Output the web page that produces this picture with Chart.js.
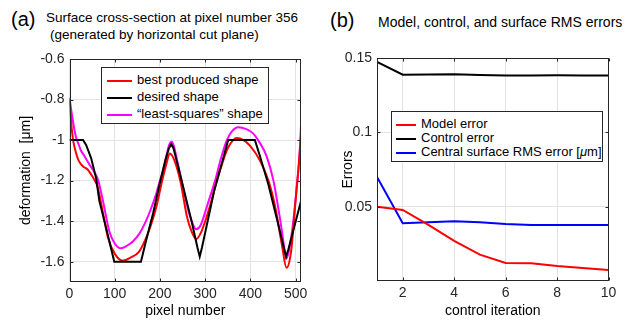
<!DOCTYPE html>
<html>
<head>
<meta charset="utf-8">
<script src="https://cdn.jsdelivr.net/npm/chart.js@4"></script>
<style>
  body { margin: 0; width: 641px; height: 321px; position: relative; overflow: hidden; background: #fff;
         font-family: "Liberation Sans", Arial, sans-serif; color: #000; }
  canvas { position: absolute; top: 0; }
  .txt { position: absolute; white-space: nowrap; line-height: 1; }
  .legend { position: absolute; border: 1px solid #262626; background: #fff; box-sizing: border-box; }
  .row { position: absolute; left: 0; white-space: nowrap; font-size: 13px; line-height: 14px; }
  .sw { position: absolute; height: 2px; }
  .lab { position: absolute; top: -7px; }
</style>
</head>
<body>
<div class="txt" style="left:11px;top:9px;font-size:20px;">(a)</div>
<div class="txt" style="left:46px;top:11px;font-size:13.5px;">Surface cross-section at pixel number 356</div>
<div class="txt" style="left:50px;top:28px;font-size:13.5px;">(generated by horizontal cut plane)</div>
<div class="txt" style="left:330px;top:10px;font-size:20px;">(b)</div>
<div class="txt" style="left:378px;top:15px;font-size:14px;">Model, control, and surface RMS errors</div>

<canvas id="chartA" width="320" height="321" style="left:0"></canvas>
<canvas id="chartB" width="321" height="321" style="left:320px"></canvas>

<div class="legend" style="left:101px;top:67px;width:168px;height:57px;">
  <div class="row" style="top:12px"><span class="sw" style="left:5px;width:25px;background:#ff0000"></span><span class="lab" style="left:35px">best produced shape</span></div>
  <div class="row" style="top:29px"><span class="sw" style="left:5px;width:25px;background:#000"></span><span class="lab" style="left:35px">desired shape</span></div>
  <div class="row" style="top:46px"><span class="sw" style="left:5px;width:25px;background:#ff00ff"></span><span class="lab" style="left:35px">“least-squares” shape</span></div>
</div>

<div class="legend" style="left:391px;top:111px;width:212px;height:51px;">
  <div class="row" style="top:12px"><span class="sw" style="left:4px;width:20px;background:#ff0000"></span><span class="lab" style="left:29px">Model error</span></div>
  <div class="row" style="top:26px"><span class="sw" style="left:4px;width:20px;background:#000"></span><span class="lab" style="left:29px">Control error</span></div>
  <div class="row" style="top:40px"><span class="sw" style="left:4px;width:20px;background:#0000ff"></span><span class="lab" style="left:29px">Central surface RMS error [<i>μ</i>m]</span></div>
</div>

<script>
// panel (a): surface cross-section
const bestX = [0, 4, 8, 14, 20, 30, 40, 48, 56, 62, 75, 85, 100, 118, 135, 154, 168, 180, 192, 205, 214, 222, 232, 246, 260, 270, 280, 292, 310, 326, 340, 350, 362, 370, 385, 400, 421, 440, 455, 470, 480, 490, 500, 506, 512];
const bestY = [-0.8, -0.92, -1.0, -1.06, -1.1, -1.13, -1.145, -1.17, -1.2, -1.23, -1.37, -1.48, -1.56, -1.595, -1.58, -1.55, -1.49, -1.42, -1.33, -1.2, -1.12, -1.066, -1.1, -1.21, -1.38, -1.45, -1.488, -1.45, -1.33, -1.2, -1.1, -1.04, -1.0, -0.99, -1.0, -1.03, -1.1, -1.2, -1.33, -1.52, -1.63, -1.55, -1.3, -1.15, -0.98];

const desiredX = [0, 30, 37, 48, 59, 66, 85, 99, 158, 170, 185, 200, 212, 220, 225, 230, 238, 248, 270, 283, 288, 293, 320, 340, 351, 410, 420, 440, 460, 475, 479, 484, 512];
const desiredY = [-1.0, -1.0, -1.025, -1.09, -1.19, -1.3, -1.47, -1.6, -1.6, -1.49, -1.36, -1.21, -1.1, -1.04, -1.02, -1.04, -1.11, -1.2, -1.4, -1.53, -1.575, -1.53, -1.25, -1.09, -1.0, -1.0, -1.07, -1.22, -1.4, -1.54, -1.575, -1.54, -1.3];

const lsqX = [0, 5, 11, 15, 20, 25, 32, 44, 50, 58, 62, 66, 75, 88, 100, 114, 128, 140, 155, 169, 180, 191, 200, 208, 215, 221, 226, 231, 238, 248, 262, 272, 280, 290, 305, 322, 335, 348, 360, 373, 390, 406, 420, 436, 451, 465, 475, 479, 485, 495, 503, 508, 512];
const lsqY = [-0.79, -0.87, -0.95, -0.99, -1.02, -1.05, -1.075, -1.12, -1.14, -1.17, -1.19, -1.22, -1.31, -1.45, -1.51, -1.534, -1.52, -1.5, -1.46, -1.4, -1.34, -1.27, -1.2, -1.14, -1.07, -1.02, -1.008, -1.03, -1.1, -1.2, -1.34, -1.41, -1.44, -1.42, -1.32, -1.2, -1.09, -1.0, -0.955, -0.937, -0.945, -0.967, -1.01, -1.08, -1.2, -1.38, -1.53, -1.585, -1.55, -1.4, -1.22, -1.1, -0.93];

const xTicksA = [0, 100, 200, 300, 400, 500];
const yTicksA = [-1.6, -1.4, -1.2, -1, -0.8, -0.6];

// panel (b): errors per control iteration
const iterations = [1, 2, 3, 4, 5, 6, 7, 8, 9, 10];
const modelError = [0.05, 0.0478, 0.0377, 0.027, 0.0177, 0.0121, 0.012, 0.0101, 0.0087, 0.0074];
const controlError = [0.1474, 0.1388, 0.1389, 0.139, 0.1386, 0.1383, 0.1383, 0.1384, 0.1382, 0.1382];
const surfaceRms = [0.07, 0.0388, 0.0395, 0.0402, 0.0395, 0.0384, 0.0377, 0.0377, 0.0377, 0.0377];

const xTicksB = [2, 4, 6, 8, 10];
const yTicksB = [0.05, 0.1, 0.15];

const FONT = '"Liberation Sans", Arial, sans-serif';
const AXIS = '#262626';
const GRID = '#e3e3e3';

const toPoints = (xs, ys) => xs.map((x, i) => ({ x: x, y: ys[i] }));

// axes box with inward tick marks, MATLAB style
const boxPlugin = {
  id: 'box',
  afterDraw(chart) {
    const { ctx, chartArea: a, scales } = chart;
    const l = Math.round(a.left) + 0.5, r = Math.round(a.right) - 0.5;
    const t = Math.round(a.top) + 0.5, b = Math.round(a.bottom) - 0.5;
    ctx.save();
    ctx.strokeStyle = AXIS;
    ctx.lineWidth = 1;
    ctx.strokeRect(l, t, r - l, b - t);
    ctx.beginPath();
    scales.x.ticks.forEach(tk => {
      const px = Math.round(scales.x.getPixelForValue(tk.value)) + 0.5;
      ctx.moveTo(px, b); ctx.lineTo(px, b - 3);
      ctx.moveTo(px, t); ctx.lineTo(px, t + 3);
    });
    scales.y.ticks.forEach(tk => {
      const py = Math.round(scales.y.getPixelForValue(tk.value)) + 0.5;
      ctx.moveTo(l, py); ctx.lineTo(l + 3, py);
      ctx.moveTo(r, py); ctx.lineTo(r - 3, py);
    });
    ctx.stroke();
    ctx.restore();
  }
};

function makeScales(opts) {
  return {
    x: {
      type: 'linear',
      min: opts.xMin,
      max: opts.xMax,
      afterFit(scale) { scale.height = opts.xHeight; },
      afterBuildTicks(scale) { scale.ticks = opts.xTicks.map(v => ({ value: v })); },
      grid: { color: GRID, drawTicks: false },
      border: { display: false },
      ticks: { color: AXIS, font: { size: 14, family: FONT }, padding: 4, maxRotation: 0, autoSkip: false },
      title: { display: true, text: opts.xTitle, color: '#000', font: { size: 14, family: FONT }, padding: { top: 0, bottom: 1 } }
    },
    y: {
      min: opts.yMin,
      max: opts.yMax,
      afterFit(scale) { scale.width = opts.yWidth; },
      afterBuildTicks(scale) { scale.ticks = opts.yTicks.map(v => ({ value: v })); },
      grid: { color: GRID, drawTicks: false },
      border: { display: false },
      ticks: {
        color: AXIS, font: { size: 14, family: FONT }, padding: 5, autoSkip: false,
        callback: v => String(+Number(v).toFixed(3))
      },
      title: { display: true, text: opts.yTitle, color: '#000', font: { size: 14, family: FONT }, padding: { top: opts.yTitlePad, bottom: 0 } }
    }
  };
}

const commonPlugins = { legend: { display: false }, tooltip: { enabled: false }, title: { display: false } };

new Chart(document.getElementById('chartA').getContext('2d'), {
  type: 'line',
  data: {
    datasets: [
      { label: 'desired shape', data: toPoints(desiredX, desiredY), borderColor: '#000000', borderWidth: 2, tension: 0, pointRadius: 0 },
      { label: 'best produced shape', data: toPoints(bestX, bestY), borderColor: '#ff0000', borderWidth: 2, cubicInterpolationMode: 'monotone', pointRadius: 0 },
      { label: '“least-squares” shape', data: toPoints(lsqX, lsqY), borderColor: '#ff00ff', borderWidth: 2, cubicInterpolationMode: 'monotone', pointRadius: 0 }
    ]
  },
  options: {
    responsive: false,
    animation: false,
    layout: { padding: { top: 59, right: 19, bottom: 0, left: 0 } },
    scales: makeScales({
      xMin: 0, xMax: 512, xTicks: xTicksA, xHeight: 39, xTitle: 'pixel number',
      yMin: -1.7, yMax: -0.6, yTicks: yTicksA, yWidth: 69.5, yTitle: 'deformation  [μm]', yTitlePad: 18
    }),
    plugins: commonPlugins
  },
  plugins: [boxPlugin]
});

new Chart(document.getElementById('chartB').getContext('2d'), {
  type: 'line',
  data: {
    datasets: [
      { label: 'Model error', data: toPoints(iterations, modelError), borderColor: '#ff0000', borderWidth: 2, tension: 0, pointRadius: 0 },
      { label: 'Control error', data: toPoints(iterations, controlError), borderColor: '#000000', borderWidth: 2, tension: 0, pointRadius: 0 },
      { label: 'Central surface RMS error [μm]', data: toPoints(iterations, surfaceRms), borderColor: '#0000ff', borderWidth: 2, tension: 0, pointRadius: 0 }
    ]
  },
  options: {
    responsive: false,
    animation: false,
    layout: { padding: { top: 58, right: 32.5, bottom: 0, left: 0 } },
    scales: makeScales({
      xMin: 1, xMax: 10, xTicks: xTicksB, xHeight: 40, xTitle: 'control iteration',
      yMin: 0, yMax: 0.15, yTicks: yTicksB, yWidth: 57, yTitle: 'Errors', yTitlePad: 20
    }),
    plugins: commonPlugins
  },
  plugins: [boxPlugin]
});
</script>
</body>
</html>
